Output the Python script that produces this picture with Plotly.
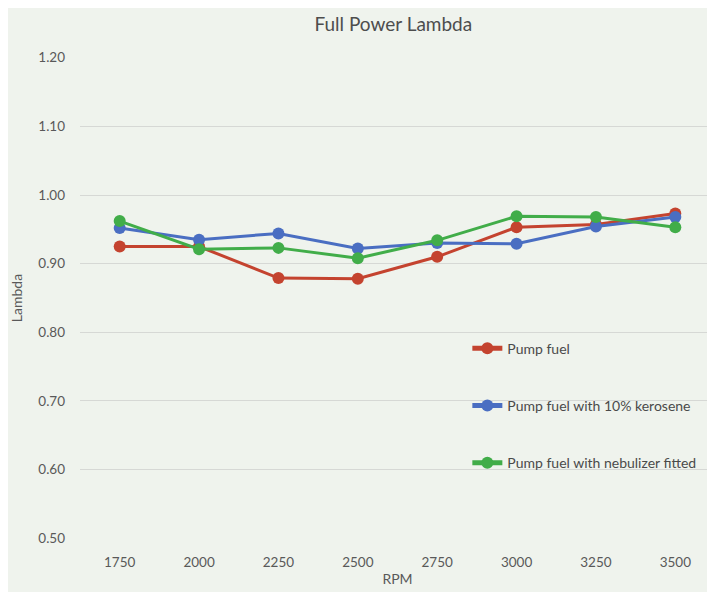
import plotly.graph_objects as go

rpm = ["1750", "2000", "2250", "2500", "2750", "3000", "3250", "3500"]
pump_fuel = [0.925, 0.925, 0.879, 0.878, 0.910, 0.953, 0.957, 0.973]
kerosene_10 = [0.952, 0.935, 0.944, 0.922, 0.930, 0.929, 0.954, 0.968]
nebulizer = [0.962, 0.921, 0.923, 0.908, 0.934, 0.969, 0.968, 0.953]
series_names = ["Pump fuel", "Pump fuel with 10% kerosene", "Pump fuel with nebulizer fitted"]
colors = ["#c4432f", "#4a6ec2", "#41ad49"]
y_ticks = [0.5, 0.6, 0.7, 0.8, 0.9, 1.0, 1.1, 1.2]

fig = go.Figure()
for i, (name, vals, col) in enumerate(zip(series_names, [pump_fuel, kerosene_10, nebulizer], colors)):
    fig.add_trace(go.Scatter(
        x=rpm, y=vals, name=name, mode="lines+markers",
        line=dict(color=col, width=3),
        marker=dict(color=col, size=12),
        legendgroup=f"g{i}",
    ))

fig.update_layout(
    width=707, height=584,
    margin=dict(l=72, r=0, t=49, b=53),
    paper_bgcolor="#eff3ed",
    plot_bgcolor="#eff3ed",
    font=dict(family="Lato, Open Sans, sans-serif", color="#595959", size=13.5),
    title=dict(text="Full Power Lambda", x=0.545, xanchor="center", y=0.972, yanchor="middle",
               font=dict(size=19, color="#4d4d4d")),
    showlegend=True,
    legend=dict(x=0.61, xanchor="left", y=0.428, yanchor="top",
                bgcolor="rgba(0,0,0,0)", tracegroupgap=36, itemsizing="constant",
                font=dict(size=14, color="#4a4a4a")),
    xaxis=dict(
        type="category", range=[-0.5, 7.5], showgrid=False, showline=False,
        zeroline=False, ticks="", ticklabelstandoff=13,
        title=dict(text="RPM", standoff=5, font=dict(size=14, color="#595959")),
    ),
    yaxis=dict(
        range=[0.499, 1.201], tickvals=y_ticks, tickformat=".2f",
        showgrid=True, gridcolor="#d6d8d5", gridwidth=1,
        zeroline=False, showline=False, ticks="", ticklabelstandoff=14,
        title=dict(text="Lambda", standoff=12, font=dict(size=14, color="#595959")),
    ),
)

fig.write_html("out.html")
